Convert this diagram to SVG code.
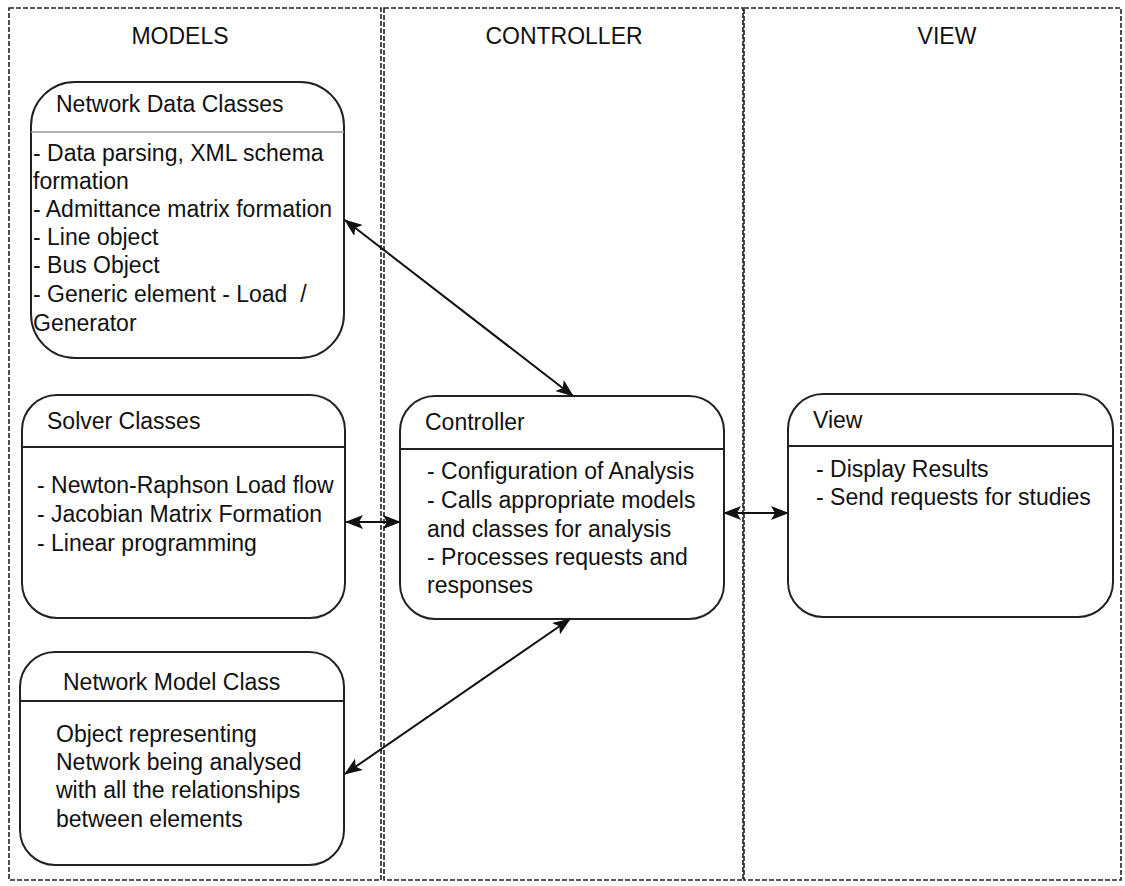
<svg xmlns="http://www.w3.org/2000/svg" width="1125" height="886" viewBox="0 0 1125 886">
<defs>
<marker id="ah" viewBox="0 0 18 14" refX="17" refY="7" markerWidth="18" markerHeight="14" markerUnits="userSpaceOnUse" orient="auto-start-reverse">
<path d="M0,0 L18,7 L0,14 L4,7 Z" fill="#111"/>
</marker>
<style>
.lane{fill:none;stroke:#222;stroke-width:1.6;stroke-dasharray:5 2}
.box{fill:#fff;stroke:#222;stroke-width:2}
.div{stroke:#222;stroke-width:2}
.hd{font-family:"Liberation Sans",Arial,sans-serif;font-size:23px;fill:#111}
.t{font-family:"Liberation Sans",Arial,sans-serif;font-size:23px;fill:#111}
.conn{stroke:#111;stroke-width:2;fill:none}
</style>
</defs>
<rect width="1125" height="886" fill="#fff"/>
<g id="lanes">
<rect class="lane" x="9" y="8" width="372" height="872"/>
<rect class="lane" x="384" y="8" width="359" height="872"/>
<rect class="lane" x="744" y="8" width="377" height="872"/>
<text class="hd" x="180" y="44" text-anchor="middle">MODELS</text>
<text class="hd" x="564" y="44" text-anchor="middle">CONTROLLER</text>
<text class="hd" x="947" y="44" text-anchor="middle">VIEW</text>
</g>
<g id="network-data-classes">
<rect class="box" x="31" y="82" width="313" height="276" rx="44" ry="44"/>
<line x1="31" y1="132" x2="344" y2="132" stroke="#999" stroke-width="1.5"/>
<text class="t" x="56" y="112">Network Data Classes</text>
<text class="t" x="33" y="161">- Data parsing, XML schema</text>
<text class="t" x="33" y="189">formation</text>
<text class="t" x="33" y="217">- Admittance matrix formation</text>
<text class="t" x="33" y="245">- Line object</text>
<text class="t" x="33" y="273">- Bus Object</text>
<text class="t" x="33" y="302" xml:space="preserve">- Generic element - Load  /</text>
<text class="t" x="33" y="331">Generator</text>
</g>
<g id="solver-classes">
<rect class="box" x="22" y="395" width="323" height="223" rx="35" ry="35"/>
<line class="div" x1="22" y1="447" x2="345" y2="447"/>
<text class="t" x="47" y="429">Solver Classes</text>
<text class="t" x="37" y="493">- Newton-Raphson Load flow</text>
<text class="t" x="37" y="522">- Jacobian Matrix Formation</text>
<text class="t" x="37" y="551">- Linear programming</text>
</g>
<g id="network-model-class">
<rect class="box" x="20" y="652" width="324" height="213" rx="35" ry="35"/>
<line class="div" x1="20" y1="701" x2="344" y2="701"/>
<text class="t" x="63" y="690">Network Model Class</text>
<text class="t" x="56" y="742">Object representing</text>
<text class="t" x="56" y="770">Network being analysed</text>
<text class="t" x="56" y="798">with all the relationships</text>
<text class="t" x="56" y="827">between elements</text>
</g>
<g id="controller">
<rect class="box" x="400" y="396" width="324" height="223" rx="35" ry="35"/>
<line class="div" x1="400" y1="449" x2="724" y2="449"/>
<text class="t" x="425" y="430">Controller</text>
<text class="t" x="427" y="479">- Configuration of Analysis</text>
<text class="t" x="427" y="508">- Calls appropriate models</text>
<text class="t" x="427" y="537">and classes for analysis</text>
<text class="t" x="427" y="565">- Processes requests and</text>
<text class="t" x="427" y="593">responses</text>
</g>
<g id="view">
<rect class="box" x="788" y="394" width="325" height="223" rx="35" ry="35"/>
<line class="div" x1="788" y1="446" x2="1113" y2="446"/>
<text class="t" x="813" y="428">View</text>
<text class="t" x="816" y="477">- Display Results</text>
<text class="t" x="816" y="505">- Send requests for studies</text>
</g>
<g id="connectors">
<line class="conn" x1="345" y1="220" x2="573" y2="396" marker-start="url(#ah)" marker-end="url(#ah)"/>
<line class="conn" x1="346" y1="522" x2="400" y2="522" marker-start="url(#ah)" marker-end="url(#ah)"/>
<line class="conn" x1="724" y1="513" x2="788" y2="513" marker-start="url(#ah)" marker-end="url(#ah)"/>
<line class="conn" x1="345" y1="774" x2="570" y2="619" marker-start="url(#ah)" marker-end="url(#ah)"/>
</g>
</svg>
